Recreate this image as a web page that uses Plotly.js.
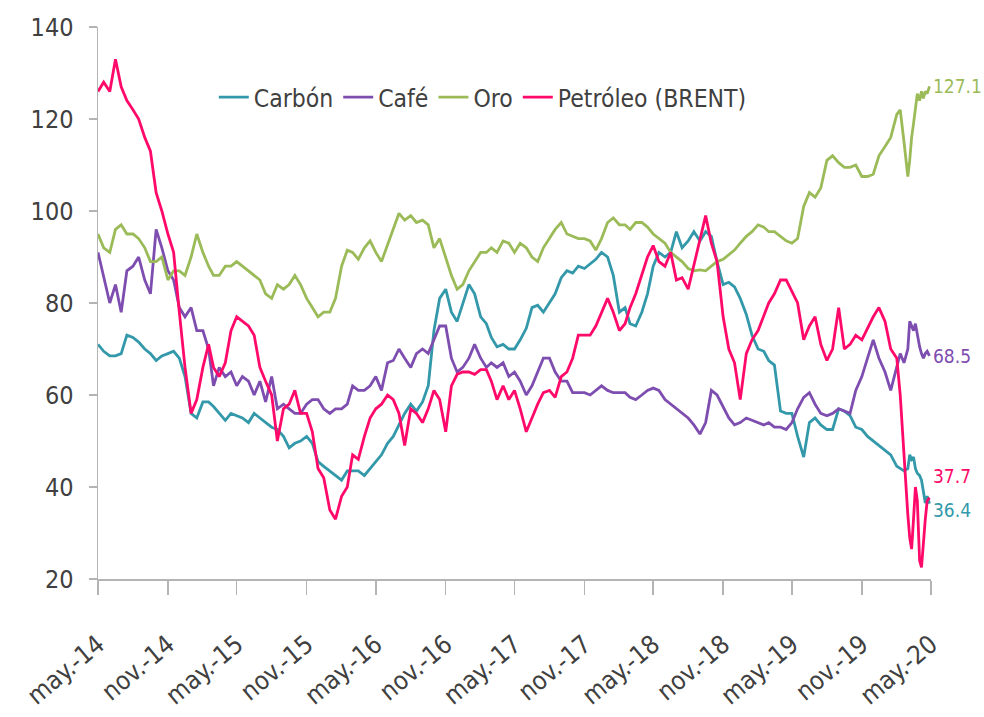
<!DOCTYPE html>
<html>
<head>
<meta charset="utf-8">
<script src="https://cdn.plot.ly/plotly-3.0.1.min.js"></script>
<style>html,body{margin:0;padding:0;background:#fff;}#chart{width:984px;height:717px;}</style>
</head>
<body>
<div id="chart"></div>
<script>
// ---- DATA ----
const dates = [
 '2014-05-01','2014-05-16','2014-06-01','2014-06-16','2014-07-01','2014-07-16','2014-08-01','2014-08-16','2014-09-01','2014-09-16','2014-10-01','2014-10-16','2014-11-01','2014-11-16','2014-12-01','2014-12-16',
 '2015-01-01','2015-01-16','2015-02-01','2015-02-16','2015-03-01','2015-03-16','2015-04-01','2015-04-16','2015-05-01','2015-05-16','2015-06-01','2015-06-16','2015-07-01','2015-07-16','2015-08-01','2015-08-16','2015-09-01','2015-09-16','2015-10-01','2015-10-16','2015-11-01','2015-11-16','2015-12-01','2015-12-16',
 '2016-01-01','2016-01-16','2016-02-01','2016-02-16','2016-03-01','2016-03-16','2016-04-01','2016-04-16','2016-05-01','2016-05-16','2016-06-01','2016-06-16','2016-07-01','2016-07-16','2016-08-01','2016-08-16','2016-09-01','2016-09-16','2016-10-01','2016-10-16','2016-11-01','2016-11-16','2016-12-01','2016-12-16',
 '2017-01-01','2017-01-16','2017-02-01','2017-02-16','2017-03-01','2017-03-16','2017-04-01','2017-04-16','2017-05-01','2017-05-16','2017-06-01','2017-06-16','2017-07-01','2017-07-16','2017-08-01','2017-08-16','2017-09-01','2017-09-16','2017-10-01','2017-10-16','2017-11-01','2017-11-16','2017-12-01','2017-12-16',
 '2018-01-01','2018-01-16','2018-02-01','2018-02-16','2018-03-01','2018-03-16','2018-04-01','2018-04-16','2018-05-01','2018-05-16','2018-06-01','2018-06-16','2018-07-01','2018-07-16','2018-08-01','2018-08-16','2018-09-01','2018-09-16','2018-10-01','2018-10-16','2018-11-01','2018-11-16','2018-12-01','2018-12-16',
 '2019-01-01','2019-01-16','2019-02-01','2019-02-16','2019-03-01','2019-03-16','2019-04-01','2019-04-16','2019-05-01','2019-05-16','2019-06-01','2019-06-16','2019-07-01','2019-07-16','2019-08-01','2019-08-16','2019-09-01','2019-09-16','2019-10-01','2019-10-16','2019-11-01','2019-11-16','2019-12-01','2019-12-16',
 '2020-01-01','2020-01-16','2020-02-01','2020-02-10','2020-02-20','2020-03-01','2020-03-06','2020-03-11','2020-03-16','2020-03-21','2020-03-26','2020-04-01','2020-04-06','2020-04-11','2020-04-16','2020-04-21','2020-04-27'
];

const carbon = [
 71, 69.5, 68.5, 68.5, 69, 73, 72.5, 71.5, 70, 69, 67.5, 68.5, 69, 69.5, 68, 64,
 56, 55, 58.5, 58.5, 57.5, 56, 54.5, 56, 55.5, 55, 54, 56, 55, 54, 53, 52.5, 51, 48.5, 49.5, 50, 51, 49.5, 45.5, 44.5,
 43.5, 42.5, 41.5, 43.5, 43.5, 43.5, 42.5, 44, 45.5, 47, 49.5, 51, 53.5, 56, 58, 56.5, 58.5, 62, 74, 81, 83, 78, 76, 80,
 84, 82, 77, 75.5, 72.5, 70.5, 71, 70, 70, 72, 74.5, 79, 79.5, 78, 80, 82, 85.5, 87, 86.5, 88, 87.5, 88.5, 89.5, 91,
 90, 86, 78, 79, 75.5, 75, 78, 82, 88, 91, 90, 91, 95.5, 92, 93.5, 95.5, 93.5, 95.5, 94.5, 89, 84, 84.5, 83.5, 81,
 77.5, 73, 70, 69.5, 67.5, 66.5, 56.5, 56, 56, 51, 46.5, 54, 55, 53.5, 52.5, 52.5, 57, 56.5, 55.5, 53, 52.5, 51, 50, 49,
 48, 47, 44.5, 44, 43.5, 44, 47, 46, 46.5, 44, 43, 42.5, 41.5, 39, 36.5, 38, 36.4
];

const cafe = [
 91, 86, 80, 84, 78, 87, 88, 90, 85, 82, 96, 92, 87, 85, 79, 77,
 79, 74, 74, 70, 62, 66, 64, 65, 62, 64, 63, 60, 63, 58.5, 64, 57, 58, 57, 56, 56, 58, 59, 59, 57,
 56, 57, 57, 58, 62, 61, 61, 62, 64, 61, 67, 67.5, 70, 68, 66, 69, 70, 69, 72, 75, 75, 68, 65, 66,
 68, 71, 68, 66, 67, 66, 67, 64, 65, 63, 60, 62, 65, 68, 68, 65, 63, 63, 60.5, 60.5, 60.5, 60, 61, 62,
 61, 60.5, 60.5, 60.5, 59.5, 59, 60, 61, 61.5, 61, 59, 58, 57, 56, 55, 53.5, 51.5, 54, 61, 60, 57.5, 55, 53.5, 54,
 55, 54.5, 54, 53.5, 54, 53, 53, 52.5, 54, 57, 59.5, 60.5, 58, 56, 55.5, 56, 57, 56.5, 56, 61, 64, 68, 72, 68,
 65, 61, 66, 69, 67, 70, 76, 75, 74, 75.5, 73, 70.5, 69, 68, 69, 69.5, 68.5
];

const oro = [
 95, 92, 91, 96, 97, 95, 95, 94, 92, 89, 89, 90, 85, 87, 87, 86,
 90, 95, 91, 88, 86, 86, 88, 88, 89, 88, 87, 86, 85, 82, 81, 84, 83, 84, 86, 84, 81, 79, 77, 78,
 78, 81, 88, 91.5, 91, 89.5, 92, 93.5, 91, 89, 92.5, 96, 99.5, 98, 99, 97.5, 98, 97, 92, 94, 90, 86, 83, 84,
 87, 89, 91, 91, 92, 91, 93.5, 93, 91, 93, 92, 90, 89, 92, 94, 96, 97.5, 95, 94.5, 94, 94, 93.5, 91.5, 94,
 97.5, 98.5, 97, 97, 96, 97.5, 97.5, 96.5, 95, 94, 93, 91, 90, 89, 87.5, 87, 87.2, 87, 88, 89, 89.5, 90.5, 91.5, 93,
 94.5, 95.5, 97, 96.5, 95.5, 95.5, 94.5, 93.5, 93, 94, 101, 104, 103, 105, 111, 112, 110.5, 109.5, 109.5, 110, 107.5, 107.5, 108, 112,
 114, 116, 121, 122, 115, 107.5, 111, 116, 119, 122, 125.5, 124, 126, 124.5, 126, 125.5, 127.1
];

const petroleo = [
 126, 128, 126, 133, 127, 124, 122, 120, 116, 113, 104, 100, 95, 91, 78, 66,
 56, 59, 66, 71, 66, 64, 67, 74, 77, 76, 75, 73, 66, 63, 60, 50, 57, 58, 61, 56, 56, 52, 44, 42,
 35, 33, 38, 40, 47, 46, 51, 55, 57, 58, 60, 59, 56, 49, 57, 56, 54, 57, 61, 59, 52, 62, 64.5, 65,
 65, 64.5, 65.5, 65.5, 63, 59, 62, 59, 61, 57, 52, 55, 58, 60.5, 61, 59.5, 64, 65, 68, 73, 73, 73, 75, 78,
 81, 78, 74, 75.5, 79, 82, 86, 90, 92.5, 89, 88, 91, 85, 85.5, 83, 88, 94, 99, 93, 89, 77, 70, 67, 59,
 69, 72, 74, 77, 80, 82, 85, 85, 82.5, 80, 72, 75, 77, 71, 67.5, 70, 79, 70, 71, 73, 72, 74.5, 77, 79,
 76, 70, 68, 60, 46, 34, 29, 26.5, 33, 40, 37, 24, 22.5, 29, 33, 37, 37.7
];

const seriesNames = ['Carbón', 'Café', 'Oro', 'Petróleo (BRENT)'];
const tickDates = ['2014-05-01','2014-11-01','2015-05-01','2015-11-01','2016-05-01','2016-11-01','2017-05-01','2017-11-01','2018-05-01','2018-11-01','2019-05-01','2019-11-01','2020-05-01'];
const tickLabels = ['may.-14','nov.-14','may.-15','nov.-15','may.-16','nov.-16','may.-17','nov.-17','may.-18','nov.-18','may.-19','nov.-19','may.-20'];
const yTicks = [20, 40, 60, 80, 100, 120, 140];

// ---- STYLE ----
const colors = ['#3399AA', '#7E4DB0', '#9BBB59', '#FF0A6A'];
const FONT = '"DejaVu Sans Condensed", "DejaVu Sans", sans-serif';
const TXT = '#404040';
const AXC = '#B4B4B4';

const values = [carbon, cafe, oro, petroleo];
const traces = values.map((v, i) => ({
  type: 'scatter', mode: 'lines', x: dates, y: v, name: seriesNames[i],
  line: {color: colors[i], width: 2.8}
}));

const labelShift = [-6, 0, 0, 22];
const annotations = values.map((v, i) => ({
  x: dates[dates.length - 1], y: v[v.length - 1], xref: 'x', yref: 'y',
  text: v[v.length - 1].toFixed(1), showarrow: false, xanchor: 'left', yanchor: 'middle',
  xshift: 2, yshift: labelShift[i],
  font: {family: FONT, size: 19, color: colors[i]}
}));

const layout = {
  width: 984, height: 717,
  margin: {l: 98, r: 53, t: 27, b: 138},
  paper_bgcolor: '#fff', plot_bgcolor: '#fff',
  showlegend: true,
  legend: {orientation: 'h', x: 0.139, xanchor: 'left', y: 0.873, yanchor: 'middle',
           font: {family: FONT, size: 24.5, color: TXT}, bgcolor: 'rgba(0,0,0,0)', itemwidth: 30},
  xaxis: {type: 'date', range: ['2014-05-01', '2020-05-01'], tickvals: tickDates, ticktext: tickLabels,
          tickangle: -40, ticks: 'outside', ticklen: 14, tickcolor: AXC, tickwidth: 1.5,
          showline: true, linecolor: AXC, linewidth: 1.5, showgrid: false, zeroline: false,
          ticklabelstandoff: 25,
          tickfont: {family: FONT, size: 25.5, color: TXT}},
  yaxis: {range: [20, 140], tickvals: yTicks, ticks: 'outside', ticklen: 8, tickcolor: AXC, tickwidth: 1.5,
          showline: true, linecolor: AXC, linewidth: 1.5, showgrid: false, zeroline: false,
          ticklabelstandoff: 10,
          tickfont: {family: FONT, size: 25, color: TXT}},
  annotations: annotations
};

Plotly.newPlot('chart', traces, layout, {staticPlot: true, displayModeBar: false});
</script>
</body>
</html>
